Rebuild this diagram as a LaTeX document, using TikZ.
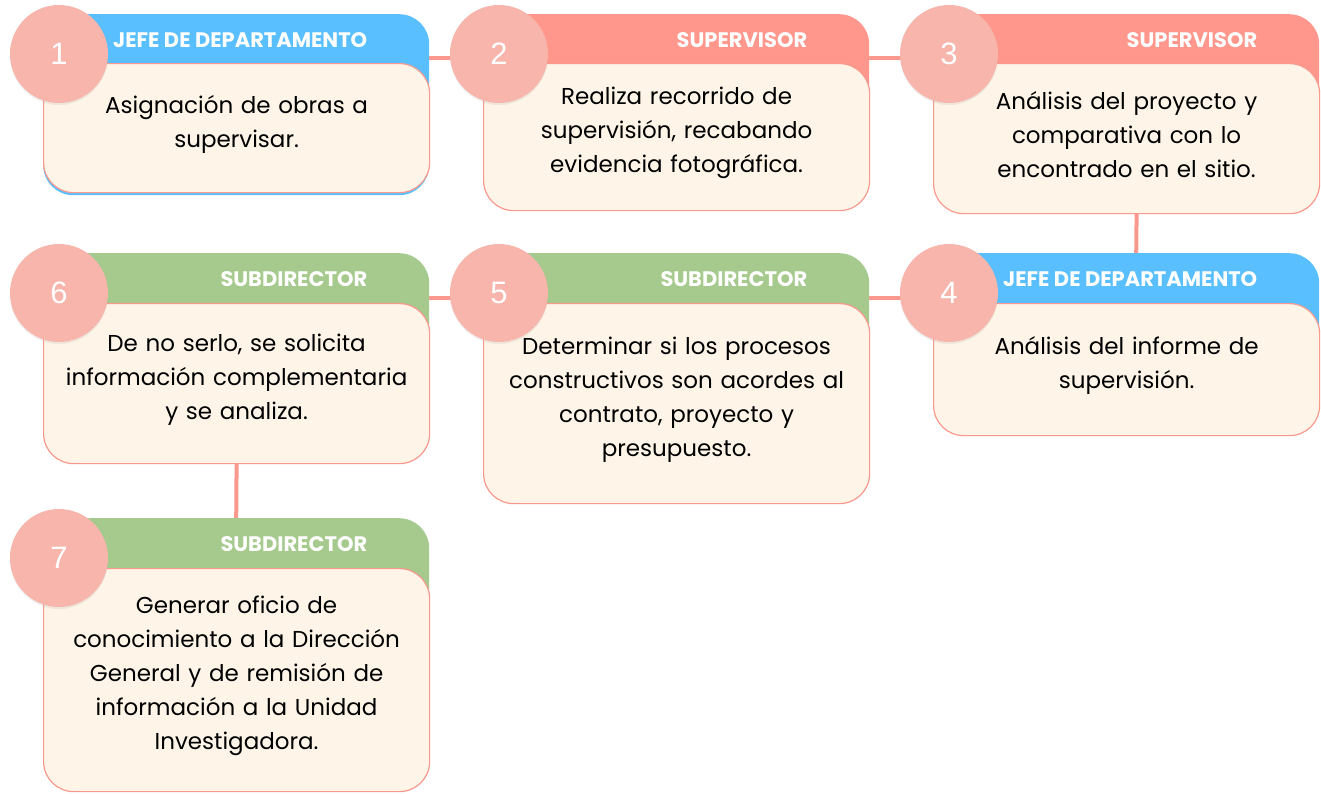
\documentclass[tikz,border=0pt]{standalone}
\usepackage{fontspec}
\setmainfont{Poppins}
\newfontfamily\numfont{Liberation Sans}
\usepackage{xcolor}
\usetikzlibrary{positioning,backgrounds,shadows}
\definecolor{jefeblue}{RGB}{89,191,255}
\definecolor{supred}{RGB}{255,151,140}
\definecolor{subgreen}{RGB}{166,201,141}
\definecolor{cream}{RGB}{254,245,232}
\definecolor{edge}{RGB}{249,153,141}
\definecolor{numpink}{RGB}{247,181,172}

\begin{document}
\begin{tikzpicture}[x=1pt, y=-1pt,
  tab/.style={rectangle, rounded corners=30pt, fill=#1, minimum width=386pt,
    anchor=north west, inner sep=0pt},
  body/.style={rectangle, rounded corners=30pt, draw=edge, line width=1.2pt,
    fill=cream, minimum width=386pt, text width=370pt, align=center,
    anchor=north west, font=\fontsize{23}{34}\selectfont,
    execute at end node={\endgraf\vspace{8pt}}},
  head/.style={font=\fontsize{21}{22}\selectfont\bfseries, text=white,
    anchor=east, inner sep=0pt},
  num/.style={circle, fill=numpink, minimum size=98pt, inner sep=0pt,
    text=white, font=\numfont\fontsize{31}{31}\selectfont,
    drop shadow={opacity=0.12, shadow xshift=0pt, shadow yshift=-2pt}},
  link/.style={draw=edge, line width=4pt}
]
\useasboundingbox (0,0) rectangle (1321,793);
% Row 1
\node[tab=jefeblue, minimum height=181pt] (t1) at (43,14) {};
\node[head] (h1) at ([xshift=-62pt,yshift=-26pt]t1.north east) {JEFE DE DEPARTAMENTO};
\node[body, minimum height=129pt] (b1) at (43,63) {Asignación de obras a\\ supervisar.};
\node[num] (n1) at ([xshift=16pt,yshift=-40pt]t1.north west) {1};

\node[tab=supred, minimum height=191pt] (t2) at (483,14) {};
\node[head] (h2) at ([xshift=-62pt,yshift=-26pt]t2.north east) {SUPERVISOR};
\node[body, minimum height=147pt] (b2) at (483,63) {Realiza recorrido de\\ supervisión, recabando\\ evidencia fotográfica.};
\node[num] (n2) at ([xshift=16pt,yshift=-40pt]t2.north west) {2};

\node[tab=supred, minimum height=194pt] (t3) at (933,14) {};
\node[head] (h3) at ([xshift=-62pt,yshift=-26pt]t3.north east) {SUPERVISOR};
\node[body, minimum height=150pt] (b3) at (933,63) {Análisis del proyecto y\\ comparativa con lo\\ encontrado en el sitio.};
\node[num] (n3) at ([xshift=16pt,yshift=-40pt]t3.north west) {3};

% Row 2
\node[tab=jefeblue, minimum height=177pt] (t4) at (933,253) {};
\node[head] (h4) at ([xshift=-62pt,yshift=-26pt]t4.north east) {JEFE DE DEPARTAMENTO};
\node[body, minimum height=132pt] (b4) at (933,303) {Análisis del informe de\\ supervisión.};
\node[num] (n4) at ([xshift=16pt,yshift=-40pt]t4.north west) {4};

\node[tab=subgreen, minimum height=245pt] (t5) at (483,253) {};
\node[head] (h5) at ([xshift=-62pt,yshift=-26pt]t5.north east) {SUBDIRECTOR};
\node[body, minimum height=200pt] (b5) at (483,303) {Determinar si los procesos\\ constructivos son acordes al\\ contrato, proyecto y\\ presupuesto.};
\node[num] (n5) at ([xshift=16pt,yshift=-40pt]t5.north west) {5};

\node[tab=subgreen, minimum height=205pt] (t6) at (43,253) {};
\node[head] (h6) at ([xshift=-62pt,yshift=-26pt]t6.north east) {SUBDIRECTOR};
\node[body, minimum height=160pt] (b6) at (43,303) {De no serlo, se solicita\\ información complementaria\\ y se analiza.};
\node[num] (n6) at ([xshift=16pt,yshift=-40pt]t6.north west) {6};

% Row 3
\node[tab=subgreen, minimum height=267pt] (t7) at (43,518) {};
\node[head] (h7) at ([xshift=-62pt,yshift=-26pt]t7.north east) {SUBDIRECTOR};
\node[body, minimum height=223pt] (b7) at (43,568) {Generar oficio de\\ conocimiento a la Dirección\\ General y de remisión de\\ información a la Unidad\\ Investigadora.};
\node[num] (n7) at ([xshift=16pt,yshift=-40pt]t7.north west) {7};

% connectors
\begin{scope}[on background layer]
\draw[link] ([yshift=-4pt]n1.center) -- ([yshift=-4pt]n2.center);
\draw[link] ([yshift=-4pt]n2.center) -- ([yshift=-4pt]n3.center);
\draw[link] ([xshift=10pt]b3.south) -- ([xshift=10pt]t4.north);
\draw[link] ([yshift=-5pt]n5.center) -- ([yshift=-5pt]n4.center);
\draw[link] ([yshift=-5pt]n6.center) -- ([yshift=-5pt]n5.center);
\draw[link] (b6.south) -- (t7.north);
\end{scope}
\end{tikzpicture}
\end{document}
